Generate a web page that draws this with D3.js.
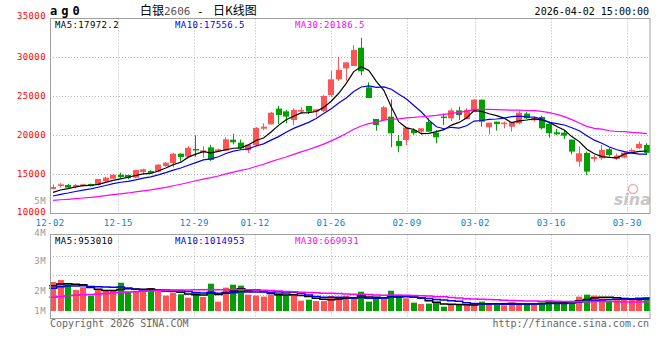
<!DOCTYPE html>
<html><head><meta charset="utf-8">
<script src="https://cdn.jsdelivr.net/npm/d3@7"></script>
<style>html,body{margin:0;padding:0;background:#fff;}svg{display:block}</style>
</head><body>
<svg id="c" width="660" height="360"></svg>
<script>
// ---------- DATA ----------
const dates = ["12-02","12-03","12-04","12-05","12-08","12-09","12-10","12-11","12-12","12-15","12-16","12-17","12-18","12-19","12-22","12-23","12-24","12-25","12-26","12-29","12-30","12-31","01-05","01-06","01-07","01-08","01-09","01-12","01-13","01-14","01-15","01-16","01-19","01-20","01-21","01-22","01-23","01-26","01-27","01-28","01-29","01-30","02-02","02-03","02-04","02-05","02-06","02-09","02-10","02-11","02-12","02-13","02-24","02-25","02-26","02-27","03-02","03-03","03-04","03-05","03-06","03-09","03-10","03-11","03-12","03-13","03-16","03-17","03-18","03-19","03-20","03-23","03-24","03-25","03-26","03-27","03-30","03-31","04-01","04-02"];
const open  = [13120,13500,13630,13370,13500,13760,13630,14140,14440,14950,14910,14570,15300,15420,15340,16060,16450,17640,17260,18250,17820,18450,18080,18030,19440,19060,18080,18740,20850,21410,23420,23070,21960,23030,23760,23030,23120,25170,27170,28580,28880,31230,26150,22090,21960,22390,19270,19400,20680,20470,21710,20340,22400,22180,23200,22090,23030,24570,21030,21750,21450,21110,21540,22780,21920,22350,21490,20380,20340,19450,16630,17740,16970,17050,18210,16970,17140,17910,18340,18760];
const high  = [13700,13880,13760,13760,13800,13800,14400,14700,14990,15210,14950,15550,15720,15550,16320,16570,17730,17690,18620,20000,18580,18780,18280,19740,20200,19440,18900,21070,21540,23030,23760,23250,23460,23590,23760,23370,25170,28280,30080,29350,31570,32500,26790,22090,23760,24610,20040,20980,20900,20900,22180,20680,22800,23460,23670,23460,24650,24570,21620,21750,21750,21750,23120,23030,22390,22520,21660,20810,20600,19450,18550,17910,17480,18760,18420,17650,17910,18330,19190,18980];
const low   = [13080,13330,13160,13200,13420,13420,13550,13930,14400,14530,14350,14480,15080,15040,15250,15980,15880,16620,17170,17250,17130,16700,17900,17990,18840,18160,17730,18550,20680,21370,21450,21540,21320,22730,22730,22390,22990,24950,27000,27000,28880,27700,24780,20600,21880,18460,17820,18760,20040,20040,20470,18980,21300,21840,21960,22050,23030,21110,20130,20600,20900,20470,21410,22090,21750,20730,19700,20040,19530,17570,15990,14920,16630,16840,17270,16840,17050,17820,18250,17480];
const close = [13370,13710,13290,13630,13710,13500,14400,14570,14950,14650,14530,15550,15640,15170,16230,16490,17640,17220,18410,18150,18070,16850,18200,19480,19100,18330,18800,20950,21110,22900,22600,22390,23250,23250,23030,23330,25040,27170,28370,29350,30930,28200,24780,21320,23590,20260,18630,20980,20260,20900,20470,19740,22250,23200,22600,23250,24570,21750,21620,21450,21620,21670,22900,22180,22180,20900,20260,20130,19960,17910,17690,15350,17230,18120,17480,17400,17780,18120,18900,17750];
const volume = [2.36,2.52,2.17,1.71,1.93,1.25,1.76,1.71,1.71,2.30,1.57,1.65,1.57,1.87,1.73,1.25,1.46,1.36,1.08,1.49,1.14,2.22,0.76,1.90,2.14,2.06,1.33,1.25,1.17,1.33,1.49,1.27,1.36,0.84,0.92,0.81,0.81,1.22,1.08,1.22,1.08,1.57,0.76,0.98,0.98,1.65,1.33,1.03,0.68,0.57,0.60,0.68,0.35,0.54,0.49,0.49,0.62,0.76,0.60,0.49,0.46,0.70,0.60,0.57,0.49,0.68,0.84,0.68,0.68,0.84,1.17,1.33,1.25,1.03,0.84,0.89,1.06,0.92,0.98,1.08].map(v => v * 1e6);
// closes / volumes of the 29 sessions before the window (needed for the moving averages)
const priorClose = [11650,11500,11200,11050,11150,11300,11250,11100,11200,11350,11400,11550,11700,11500,11350,11400,11500,11600,11450,11630,11550,11600,11700,11850,12020,12250,12400,12600,12837];
const priorVolume = [0.45,0.5,0.55,0.5,0.6,0.55,0.65,0.6,0.7,0.65,0.75,0.8,0.85,0.8,0.9,0.95,0.9,1.0,1.05,1.15,1.4,1.55,1.6,1.75,1.9,1.85,2.05,1.9,2.14].map(v => v * 1e6);
const tickDates = ["12-02","12-15","12-29","01-12","01-26","02-09","03-02","03-16","03-30"];
const priceTicks = [10000,15000,20000,25000,30000,35000];
const volTicks = [1,2,3,4,5];
const volTickLabels = ["1M","2M","3M","4M","5M"];
const maPeriods = [5,10,30];
const maColors = ["#000000","#0000ee","#ff00ff"];
const priceMaText = ["MA5:17972.2","MA10:17556.5","MA30:20186.5"];
const volMaText = ["MA5:953010","MA10:1014953","MA30:669931"];
const symbolText = "ag0";
const titleParts = ["白银", "2606", "-", "日K线图"];
const timeText = "2026-04-02 15:00:00";

// ---------- LAYOUT ----------
const L = 50, R = 650;
const pTop = 18.5, pBot = 213.5;
const vTop = 234.5, vBot = 318.5;
const UP = "#ff5454", DN = "#00a000";
const MONO = "'DejaVu Sans Mono', monospace";
const CJK = "'Noto Sans CJK SC', sans-serif";
const FS = 9, LS = 0.4;

const svg = d3.select("#c");
const x = d3.scaleBand().domain(dates).range([L, R]).paddingInner(0.2).paddingOuter(0);
const xt = d3.scalePoint().domain(dates).range([L, R]);
const y = d3.scaleLinear().domain([10000, 35000]).range([213.3, 18.3]);
const yv = d3.scaleLinear().domain([0, 5e6]).range([311, 311 - 5 * 12.3]);
const yvLabel = d3.scaleLinear().domain([0, 5]).range([350, 200]);

function movingAvg(vals, prior, n) {
  const all = prior.concat(vals);
  const off = prior.length;
  return vals.map((_, i) => d3.mean(all.slice(off + i - n + 1, off + i + 1)));
}
const mono = s => s.attr("font-family", MONO).attr("font-size", FS).attr("letter-spacing", LS);
const gridStyle = s => s.attr("stroke", "#b4b4b4").attr("stroke-width", 1).attr("stroke-dasharray", "1,2").attr("fill", "none");

// ---------- GRID ----------
svg.append("g").selectAll("line").data(priceTicks.filter(v => v > 10000 && v < 35000)).join("line")
  .attr("x1", L).attr("x2", R).attr("y1", d => Math.round(y(d)) + 0.5).attr("y2", d => Math.round(y(d)) + 0.5).call(gridStyle);
const vg = tickDates.filter(d => d !== dates[0]);
svg.append("g").selectAll("line").data(vg).join("line")
  .attr("x1", d => Math.round(xt(d)) + 0.5).attr("x2", d => Math.round(xt(d)) + 0.5)
  .attr("y1", pTop).attr("y2", pBot).call(gridStyle);
svg.append("g").selectAll("line").data(vg).join("line")
  .attr("x1", d => Math.round(xt(d)) + 0.5).attr("x2", d => Math.round(xt(d)) + 0.5)
  .attr("y1", vTop).attr("y2", vBot).call(gridStyle);
svg.append("g").selectAll("line").data([1, 2, 3]).join("line")
  .attr("x1", L).attr("x2", R)
  .attr("y1", k => Math.round(236 + k * (314 - 236) / 4) + 0.5).attr("y2", k => Math.round(236 + k * (314 - 236) / 4) + 0.5)
  .call(gridStyle);

// watermark
const wm = svg.append("g").attr("opacity", 0.55);
wm.append("circle").attr("cx", 633).attr("cy", 189).attr("r", 4.5).attr("fill", "none").attr("stroke", "#e07070").attr("stroke-width", 1.5);
wm.append("text").attr("x", 651).attr("y", 205).attr("text-anchor", "end")
  .attr("font-family", "'DejaVu Sans', sans-serif").attr("font-size", 16).attr("font-weight", "bold").attr("font-style", "italic")
  .attr("fill", "#9a9a9a").text("sina");

// ---------- CANDLES ----------
const idx = d3.range(dates.length);
const cg = svg.append("g");
cg.selectAll("line").data(idx).join("line")
  .attr("x1", i => Math.floor(x(dates[i]) + x.bandwidth() / 2) + 0.5)
  .attr("x2", i => Math.floor(x(dates[i]) + x.bandwidth() / 2) + 0.5)
  .attr("y1", i => y(high[i])).attr("y2", i => y(low[i]))
  .attr("stroke", i => close[i] >= open[i] ? UP : DN).attr("stroke-width", 1);
cg.selectAll("rect").data(idx).join("rect")
  .attr("x", i => Math.round(x(dates[i])))
  .attr("width", Math.round(x.bandwidth()))
  .attr("y", i => y(Math.max(open[i], close[i])))
  .attr("height", i => Math.max(1.5, Math.abs(y(open[i]) - y(close[i]))))
  .attr("fill", i => close[i] >= open[i] ? UP : DN);

maPeriods.forEach((n, k) => {
  const m = movingAvg(close, priorClose, n);
  svg.append("path").datum(m)
    .attr("d", d3.line().x((d, i) => x(dates[i]) + x.bandwidth() / 2).y(d => y(d)))
    .attr("fill", "none").attr("stroke", maColors[k]).attr("stroke-width", 1.2);
});

// ---------- VOLUME ----------
svg.append("g").selectAll("rect").data(idx).join("rect")
  .attr("x", i => Math.round(x(dates[i])))
  .attr("width", Math.round(x.bandwidth()))
  .attr("y", i => yv(volume[i]))
  .attr("height", i => yv(0) - yv(volume[i]))
  .attr("fill", i => close[i] >= open[i] ? UP : DN);

maPeriods.forEach((n, k) => {
  const m = movingAvg(volume, priorVolume, n);
  const pts = [];
  m.forEach((v, i) => { pts.push([x(dates[i]) - 0.75, v]); pts.push([x(dates[i]) + x.step() - 0.75, v]); });
  svg.append("path").datum(pts)
    .attr("d", d3.line().x(d => Math.min(R, d[0])).y(d => yv(d[1])))
    .attr("fill", "none").attr("stroke", maColors[k]).attr("stroke-width", 1.5);
});

// ---------- FRAMES ----------
const frame = (t, b) => {
  svg.append("rect").attr("x", L + 0.5).attr("y", t).attr("width", R - L - 0.5).attr("height", b - t)
    .attr("fill", "none").attr("stroke", "#a0a0a0").attr("stroke-width", 1);
};
frame(pTop, pBot);
frame(vTop, vBot);

// ---------- TEXT ----------
svg.append("g").selectAll("text").data(priceTicks).join("text").call(mono)
  .attr("x", 46).attr("y", d => d === 35000 ? 19 : Math.min(y(d) + 3, 215)).attr("text-anchor", "end")
  .attr("fill", "#ff0000").text(d => d);
svg.append("g").selectAll("text").data(volTicks).join("text").call(mono)
  .attr("x", 46).attr("y", v => v === 4 ? 236 : Math.min(yvLabel(v), 310) + 3.5).attr("text-anchor", "end")
  .attr("fill", "#999999").text((v, i) => volTickLabels[i]);
svg.append("g").selectAll("text").data(tickDates).join("text").call(mono)
  .attr("x", d => xt(d)).attr("y", 225.5).attr("text-anchor", "middle")
  .attr("fill", "#0a84d0").text(d => d);
[55, 175, 295].forEach((px, k) => {
  svg.append("text").call(mono).attr("x", px).attr("y", 27.5).attr("fill", maColors[k]).text(priceMaText[k]);
  svg.append("text").call(mono).attr("x", px).attr("y", 243.5).attr("fill", maColors[k]).text(volMaText[k]);
});
// header
svg.append("text").attr("x", 50).attr("y", 15).attr("font-family", MONO).attr("font-size", 12)
  .attr("font-weight", "bold").attr("letter-spacing", 4).attr("fill", "#000").text(symbolText);
const title = svg.append("text").attr("y", 15).attr("font-family", CJK).attr("font-size", 12).attr("fill", "#000");
title.append("tspan").attr("x", 140).text(titleParts[0]);
title.append("tspan").attr("x", 164).attr("font-family", MONO).attr("font-size", 11).attr("fill", "#555").text(titleParts[1]);
title.append("tspan").attr("x", 197).attr("font-family", MONO).attr("font-size", 11).text(titleParts[2]);
title.append("tspan").attr("x", 213).text(titleParts[3]);
svg.append("text").call(mono).attr("font-size", 10).attr("letter-spacing", 0).attr("x", 649).attr("y", 15).attr("text-anchor", "end")
  .attr("fill", "#000").text(timeText);
// footer
svg.append("text").call(mono).attr("font-size", 10).attr("letter-spacing", 0).attr("x", 50).attr("y", 327)
  .attr("fill", "#666").text("Copyright 2026 SINA.COM");
svg.append("text").call(mono).attr("font-size", 10).attr("letter-spacing", 0).attr("x", 649).attr("y", 327).attr("text-anchor", "end")
  .attr("fill", "#666").text("http://finance.sina.com.cn");
</script></body></html>
